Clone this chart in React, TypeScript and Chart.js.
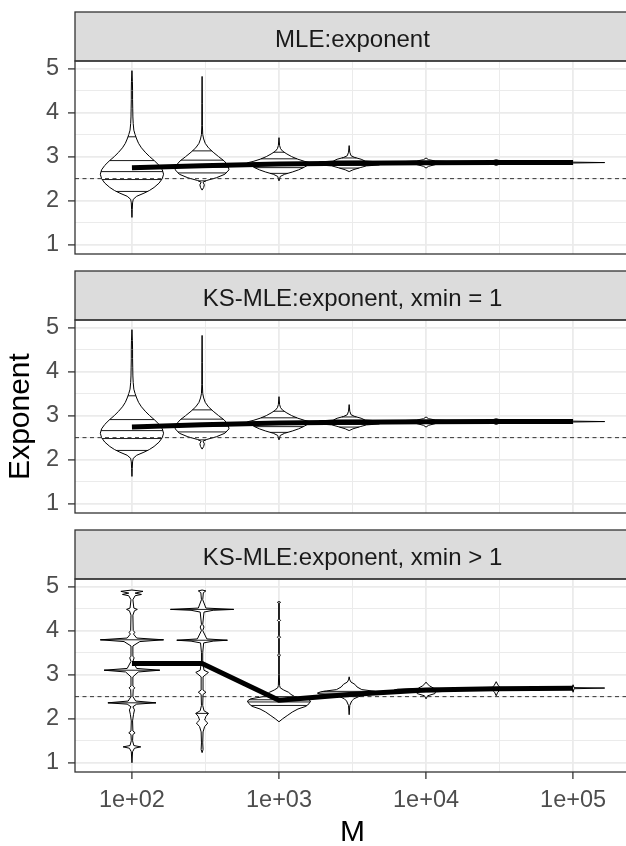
import React, { useEffect, useRef } from 'react';
import { Chart, registerables } from 'chart.js';

Chart.register(...registerables);

// ---------- data ----------
const M_VALUES = [100, 300, 1000, 3000, 10000, 30000, 100000];
const X_MAJOR_TICKS = [100, 1000, 10000, 100000];
const X_TICK_LABELS = ['1e+02', '1e+03', '1e+04', '1e+05'];
const X_MINOR_TICKS = [316.23, 3162.3, 31623];
const Y_MAJOR_TICKS = [1, 2, 3, 4, 5];
const Y_MINOR_TICKS = [1.5, 2.5, 3.5, 4.5];
const X_LIMITS = [41, 243800];
const Y_LIMITS = [0.79, 5.17];
const TRUE_EXPONENT = 2.5;
const PANEL_TITLES = ['MLE:exponent', 'KS-MLE:exponent, xmin = 1', 'KS-MLE:exponent, xmin > 1'];
const X_TITLE = 'M';
const Y_TITLE = 'Exponent';

const MEAN_MLE = [2.75, 2.79, 2.835, 2.85, 2.86, 2.865, 2.865];
const MEAN_KS_XMIN1 = [2.74, 2.79, 2.835, 2.85, 2.86, 2.865, 2.865];
const MEAN_KS_XMINGT1 = [3.25, 3.25, 2.42, 2.55, 2.65, 2.68, 2.69];

// violin profiles: [exponent, relative density width]
const MLE_M100 = [[1.62, 0], [1.8, 0.01], [1.95, 0.02], [2.03, 0.04], [2.1, 0.15], [2.17, 0.38], [2.23, 0.55], [2.3, 0.7], [2.4, 0.86], [2.5, 0.96], [2.6, 1.0], [2.7, 0.96], [2.8, 0.86], [2.9, 0.72], [3.0, 0.56], [3.1, 0.42], [3.2, 0.3], [3.3, 0.21], [3.4, 0.15], [3.5, 0.1], [3.6, 0.06], [3.75, 0.04], [3.9, 0.03], [4.1, 0.025], [4.3, 0.02], [4.5, 0.02], [4.7, 0.015], [4.95, 0]];
const MLE_M300 = [[2.24, 0], [2.3, 0.05], [2.36, 0.07], [2.42, 0.03], [2.46, 0.15], [2.52, 0.45], [2.6, 0.72], [2.7, 0.85], [2.8, 0.82], [2.9, 0.7], [3.0, 0.52], [3.1, 0.35], [3.2, 0.2], [3.3, 0.1], [3.4, 0.05], [3.5, 0.02], [3.7, 0.01], [4.2, 0.008], [4.82, 0]];
const MLE_M1000 = [[2.45, 0], [2.55, 0.04], [2.6, 0.18], [2.65, 0.42], [2.7, 0.62], [2.76, 0.8], [2.81, 0.92], [2.83, 1.0], [2.86, 1.0], [2.89, 0.82], [2.94, 0.6], [3.0, 0.4], [3.06, 0.25], [3.12, 0.12], [3.18, 0.05], [3.25, 0.02], [3.43, 0]];
const MLE_M3000 = [[2.66, 0], [2.7, 0.12], [2.75, 0.35], [2.79, 0.55], [2.81, 0.95], [2.84, 1.0], [2.88, 0.95], [2.9, 0.5], [2.94, 0.38], [2.98, 0.18], [3.02, 0.06], [3.1, 0.02], [3.25, 0]];
const MLE_M10000 = [[2.74, 0], [2.78, 0.08], [2.82, 0.3], [2.84, 0.95], [2.86, 1.0], [2.88, 0.95], [2.9, 0.3], [2.93, 0.08], [2.97, 0]];
const MLE_M30000 = [[2.8, 0], [2.84, 0.15], [2.85, 0.95], [2.87, 1.0], [2.89, 0.95], [2.9, 0.15], [2.93, 0]];
const MLE_M100000 = [[2.855, 0], [2.865, 1.0], [2.875, 0]];
const MLE_QUANTILES = [[2.21, 2.48, 2.66, 2.91, 3.45], [2.45, 2.63, 2.76, 2.92, 3.13], [2.62, 2.75, 2.84, 2.95, 3.1], [2.74, 2.8, 2.85, 2.9, 2.97], [], [], []];

const KSX_M100 = [[1.0, 0], [1.25, 0.02], [1.33, 0.08], [1.36, 0.28], [1.39, 0.06], [1.5, 0.02], [1.64, 0.03], [1.68, 0.1], [1.72, 0.03], [1.95, 0.02], [2.1, 0.05], [2.2, 0.08], [2.27, 0.03], [2.33, 0.15], [2.36, 0.76], [2.4, 0.12], [2.5, 0.03], [2.66, 0.04], [2.7, 0.09], [2.74, 0.03], [2.95, 0.03], [3.06, 0.2], [3.1, 0.88], [3.14, 0.15], [3.3, 0.03], [3.38, 0.07], [3.42, 0.03], [3.65, 0.03], [3.75, 0.25], [3.79, 1.0], [3.83, 0.15], [3.92, 0.05], [3.96, 0.09], [4.0, 0.04], [4.35, 0.03], [4.45, 0.08], [4.48, 0.17], [4.51, 0.06], [4.7, 0.03], [4.79, 0.1], [4.82, 0.3], [4.85, 0.1], [4.89, 0.35], [4.92, 0]];
const KSX_M300 = [[1.23, 0], [1.3, 0.03], [1.45, 0.02], [1.7, 0.03], [1.82, 0.08], [1.9, 0.18], [1.97, 0.08], [2.05, 0.12], [2.12, 0.2], [2.18, 0.06], [2.3, 0.02], [2.55, 0.03], [2.6, 0.12], [2.65, 0.03], [2.95, 0.03], [3.05, 0.2], [3.1, 0.06], [3.3, 0.02], [3.5, 0.02], [3.72, 0.05], [3.76, 0.35], [3.78, 0.8], [3.81, 0.15], [4.0, 0.02], [4.08, 0.06], [4.14, 0.02], [4.42, 0.06], [4.46, 0.35], [4.48, 1.0], [4.51, 0.12], [4.7, 0.02], [4.86, 0.04], [4.9, 0.12], [4.92, 0]];
const KSX_M1000 = [[1.93, 0], [2.0, 0.12], [2.08, 0.28], [2.15, 0.42], [2.22, 0.6], [2.28, 0.85], [2.34, 0.95], [2.4, 1.0], [2.45, 0.9], [2.5, 0.5], [2.55, 0.38], [2.6, 0.3], [2.65, 0.15], [2.7, 0.04], [2.75, 0.02], [3.0, 0.01], [3.4, 0.01], [3.44, 0.04], [3.48, 0.01], [3.82, 0.01], [3.85, 0.05], [3.88, 0.01], [4.2, 0.01], [4.23, 0.05], [4.26, 0.01], [4.62, 0.01], [4.64, 0.05], [4.66, 0]];
const KSX_M3000 = [[2.09, 0], [2.3, 0.02], [2.4, 0.08], [2.45, 0.15], [2.5, 0.3], [2.54, 0.6], [2.56, 0.95], [2.58, 1.0], [2.61, 0.9], [2.63, 0.72], [2.66, 0.4], [2.72, 0.25], [2.78, 0.18], [2.83, 0.06], [2.88, 0.02], [2.95, 0]];
const KSX_M10000 = [[2.45, 0], [2.52, 0.05], [2.57, 0.28], [2.61, 0.3], [2.63, 0.95], [2.65, 1.0], [2.67, 0.9], [2.69, 0.25], [2.74, 0.12], [2.79, 0.04], [2.83, 0]];
const KSX_M30000 = [[2.52, 0], [2.6, 0.05], [2.65, 0.12], [2.66, 0.95], [2.68, 1.0], [2.7, 0.9], [2.71, 0.12], [2.76, 0.06], [2.84, 0]];
const KSX_M100000 = [[2.6, 0], [2.68, 0.03], [2.695, 1.0], [2.705, 0.03], [2.77, 0]];
const KSX_QUANTILES = [[2.36, 3.1, 3.79], [2.12, 3.78, 4.48], [2.3, 2.38, 2.43, 2.5], [2.5, 2.58, 2.62], [2.61, 2.65], [], []];

const MLE_VIOLINS = [MLE_M100, MLE_M300, MLE_M1000, MLE_M3000, MLE_M10000, MLE_M30000, MLE_M100000];
const KSX_VIOLINS = [KSX_M100, KSX_M300, KSX_M1000, KSX_M3000, KSX_M10000, KSX_M30000, KSX_M100000];

// ---------- style ----------
const FONT = "'Liberation Sans', Arial, Helvetica, sans-serif";
const CANVAS_W = 660;
const STRIP_TOP = 12;
const PLOT_TOP = 61;
const PANEL_STEP = 259;
const VIOLIN_HALF_DECADES = 0.215;
const GRID_COLOR = '#EBEBEB';
const DARK = '#333333';

type Profile = number[][];
interface PanelCfg {
  title: string;
  means: number[];
  violins: Profile[];
  quantiles: number[][];
  showX: boolean;
  showYTitle: boolean;
}

const PANELS: PanelCfg[] = [
  { title: PANEL_TITLES[0], means: MEAN_MLE, violins: MLE_VIOLINS, quantiles: MLE_QUANTILES, showX: false, showYTitle: false },
  { title: PANEL_TITLES[1], means: MEAN_KS_XMIN1, violins: MLE_VIOLINS, quantiles: MLE_QUANTILES, showX: false, showYTitle: true },
  { title: PANEL_TITLES[2], means: MEAN_KS_XMINGT1, violins: KSX_VIOLINS, quantiles: KSX_QUANTILES, showX: true, showYTitle: false },
];

function widthAt(profile: Profile, v: number): number {
  for (let i = 1; i < profile.length; i++) {
    const [y0, w0] = profile[i - 1];
    const [y1, w1] = profile[i];
    if (v >= y0 && v <= y1) {
      return y1 === y0 ? w0 : w0 + ((v - y0) / (y1 - y0)) * (w1 - w0);
    }
  }
  return 0;
}

function makeViolinPlugin(cfg: PanelCfg) {
  return {
    id: 'violins',
    beforeDatasetsDraw(chart: any) {
      const { ctx, chartArea, scales } = chart;
      const xs = scales.x;
      const ys = scales.y;
      ctx.save();
      ctx.beginPath();
      ctx.rect(chartArea.left, chartArea.top, chartArea.right - chartArea.left, chartArea.bottom - chartArea.top);
      ctx.clip();
      ctx.lineJoin = 'round';
      cfg.violins.forEach((profile, i) => {
        const m = M_VALUES[i];
        const px = (w: number, s: number) => xs.getPixelForValue(m * Math.pow(10, s * VIOLIN_HALF_DECADES * w));
        ctx.beginPath();
        profile.forEach(([v, w], k) => {
          const X = px(w, 1);
          const Y = ys.getPixelForValue(v);
          if (k === 0) ctx.moveTo(X, Y);
          else ctx.lineTo(X, Y);
        });
        for (let k = profile.length - 1; k >= 0; k--) {
          const [v, w] = profile[k];
          ctx.lineTo(px(w, -1), ys.getPixelForValue(v));
        }
        ctx.closePath();
        ctx.fillStyle = '#FFFFFF';
        ctx.fill();
        ctx.strokeStyle = '#000000';
        ctx.lineWidth = 1;
        ctx.stroke();
        ctx.lineWidth = 0.9;
        (cfg.quantiles[i] || []).forEach((q) => {
          const w = widthAt(profile, q);
          const Y = ys.getPixelForValue(q);
          ctx.beginPath();
          ctx.moveTo(px(w, -1), Y);
          ctx.lineTo(px(w, 1), Y);
          ctx.stroke();
        });
      });
      ctx.restore();
    },
  };
}

function makeFramePlugin(cfg: PanelCfg) {
  return {
    id: 'frame',
    afterDraw(chart: any) {
      const { ctx, chartArea } = chart;
      const { left, right, top, bottom } = chartArea;
      ctx.save();
      ctx.fillStyle = '#DCDCDC';
      ctx.fillRect(left, STRIP_TOP, right - left, top - STRIP_TOP);
      ctx.strokeStyle = DARK;
      ctx.lineWidth = 1.3;
      ctx.strokeRect(left, STRIP_TOP, right - left, top - STRIP_TOP);
      ctx.strokeRect(left, top, right - left, bottom - top);
      ctx.fillStyle = '#1A1A1A';
      ctx.font = `24px ${FONT}`;
      ctx.textAlign = 'center';
      ctx.textBaseline = 'alphabetic';
      ctx.fillText(cfg.title, (left + right) / 2, top - 14.5);
      ctx.restore();
    },
  };
}

function Panel({ cfg, index }: { cfg: PanelCfg; index: number }) {
  const ref = useRef<HTMLCanvasElement>(null);
  const height = cfg.showX ? 350 : 262;
  useEffect(() => {
    if (!ref.current) return;
    const isXMinor = (v: number) => X_MINOR_TICKS.some((t) => Math.abs(t - v) / t < 1e-3);
    const isYMinor = (v: number) => Y_MINOR_TICKS.some((t) => Math.abs(t - v) < 1e-6);
    const chart = new Chart(ref.current, {
      type: 'line',
      data: {
        datasets: [
          {
            data: cfg.means.map((v, i) => ({ x: M_VALUES[i], y: v })),
            borderColor: '#000000',
            borderWidth: 5,
            pointRadius: 0,
            borderJoinStyle: 'round',
            tension: 0,
          },
          {
            data: X_LIMITS.map((x) => ({ x, y: TRUE_EXPONENT })),
            borderColor: DARK,
            borderWidth: 1,
            borderDash: [4, 3.5],
            pointRadius: 0,
          },
        ],
      },
      options: {
        responsive: false,
        animation: false,
        events: [],
        layout: { padding: { top: PLOT_TOP, right: 30, bottom: cfg.showX ? 0 : 8, left: 0 } },
        plugins: { legend: { display: false }, tooltip: { enabled: false }, title: { display: false } },
        scales: {
          x: {
            type: 'logarithmic',
            min: X_LIMITS[0],
            max: X_LIMITS[1],
            afterBuildTicks: (axis: any) => {
              axis.ticks = [...X_MAJOR_TICKS, ...X_MINOR_TICKS].sort((a, b) => a - b).map((value) => ({ value }));
            },
            afterFit: (axis: any) => {
              axis.paddingLeft = 0;
              axis.paddingRight = 0;
              axis.height = cfg.showX ? height - 254 : 0;
            },
            ticks: {
              display: cfg.showX,
              autoSkip: false,
              maxRotation: 0,
              padding: 7,
              color: '#4D4D4D',
              font: { size: 23.5, family: FONT },
              callback: (value: any) => {
                const idx = X_MAJOR_TICKS.findIndex((t) => Math.abs(t - value) / t < 1e-6);
                return idx >= 0 ? X_TICK_LABELS[idx] : '';
              },
            },
            grid: {
              color: GRID_COLOR,
              lineWidth: (c: any) => (c.tick && isXMinor(c.tick.value) ? 1 : 1.8),
              drawTicks: cfg.showX,
              tickLength: 7,
              tickWidth: 1.3,
              tickColor: (c: any) => (c.tick && isXMinor(c.tick.value) ? 'rgba(0,0,0,0)' : DARK),
            },
            border: { display: false },
            title: {
              display: cfg.showX,
              text: X_TITLE,
              color: '#000000',
              font: { size: 30, family: FONT },
              padding: { top: 0, bottom: 17 },
            },
          },
          y: {
            type: 'linear',
            min: Y_LIMITS[0],
            max: Y_LIMITS[1],
            afterBuildTicks: (axis: any) => {
              axis.ticks = [...Y_MAJOR_TICKS, ...Y_MINOR_TICKS].sort((a, b) => a - b).map((value) => ({ value }));
            },
            afterFit: (axis: any) => {
              axis.width = 75;
              axis.paddingTop = 0;
              axis.paddingBottom = 0;
            },
            ticks: {
              autoSkip: false,
              padding: 9,
              color: '#4D4D4D',
              font: { size: 23.5, family: FONT },
              callback: (value: any) => (isYMinor(Number(value)) ? '' : String(value)),
            },
            grid: {
              color: GRID_COLOR,
              lineWidth: (c: any) => (c.tick && isYMinor(c.tick.value) ? 1 : 1.8),
              tickLength: 7,
              tickWidth: 1.3,
              tickColor: (c: any) => (c.tick && isYMinor(c.tick.value) ? 'rgba(0,0,0,0)' : DARK),
            },
            border: { display: false },
            title: {
              display: cfg.showYTitle,
              text: Y_TITLE,
              color: '#000000',
              font: { size: 30, family: FONT },
              padding: { top: 3, bottom: 0 },
            },
          },
        },
      } as any,
      plugins: [makeViolinPlugin(cfg), makeFramePlugin(cfg)],
    } as any);
    return () => chart.destroy();
  }, []);
  return (
    <canvas
      ref={ref}
      width={CANVAS_W}
      height={height}
      style={{ position: 'absolute', left: 0, top: index * PANEL_STEP, width: CANVAS_W, height }}
    />
  );
}

export default function App() {
  return (
    <div
      style={{
        position: 'absolute',
        left: 0,
        top: 0,
        width: 626,
        height: 846,
        overflow: 'hidden',
        background: '#FFFFFF',
      }}
    >
      {PANELS.map((cfg, i) => (
        <Panel key={i} cfg={cfg} index={i} />
      ))}
    </div>
  );
}
